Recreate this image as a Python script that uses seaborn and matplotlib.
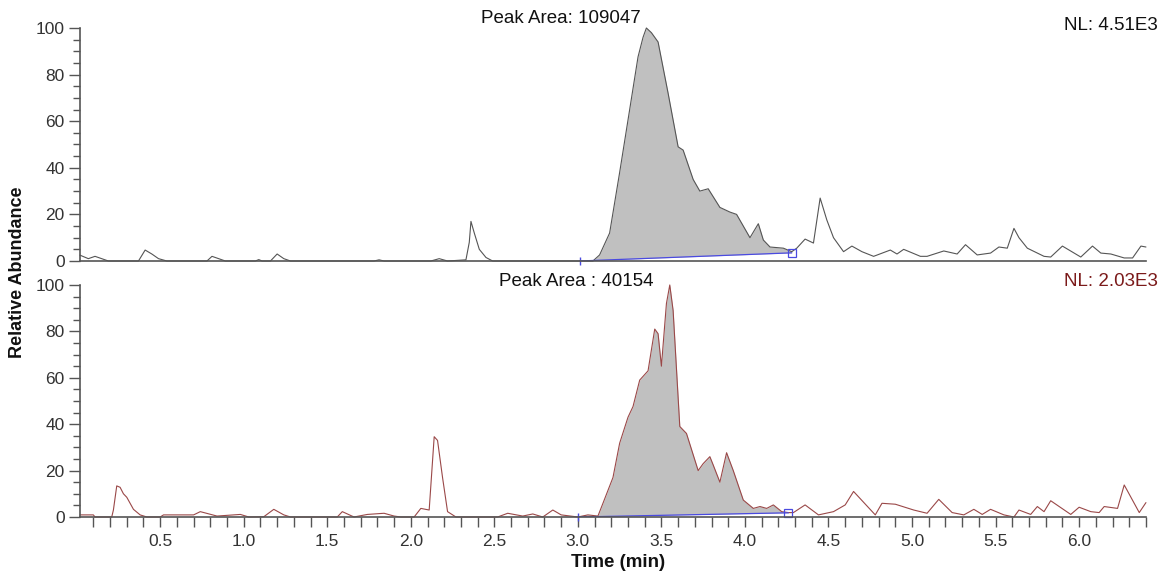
# Chromatogram recreation: two stacked SRM traces with integrated peak

import numpy as np
import matplotlib
matplotlib.use('Agg')
import matplotlib.pyplot as plt
from matplotlib.ticker import MultipleLocator, FormatStrFormatter
import seaborn as sns

sns.set_style('ticks')
plt.rcParams['font.family'] = ['Liberation Sans', 'DejaVu Sans']

# top trace (NL 4.51E3)
top_time = [0.02, 0.07, 0.11, 0.15, 0.19, 0.37, 0.41, 0.45, 0.49, 0.54, 0.78, 0.81, 0.85, 0.89,
            1.07, 1.09, 1.11, 1.16, 1.20, 1.24, 1.28, 1.78, 1.81, 1.84, 2.12, 2.17, 2.22,
            2.33, 2.35, 2.36, 2.38, 2.41, 2.45, 2.49, 3.01, 3.09, 3.13, 3.19, 3.25, 3.31,
            3.36, 3.39, 3.41, 3.44, 3.48, 3.54, 3.60, 3.63, 3.69, 3.73, 3.78, 3.85, 3.91,
            3.95, 4.03, 4.08, 4.11, 4.15, 4.23, 4.28, 4.31, 4.36, 4.41, 4.45, 4.49, 4.53,
            4.59, 4.64, 4.70, 4.77, 4.87, 4.91, 4.95, 5.05, 5.09, 5.19, 5.27, 5.32, 5.39,
            5.47, 5.52, 5.57, 5.61, 5.64, 5.69, 5.79, 5.83, 5.90, 6.01, 6.08, 6.13, 6.19,
            6.27, 6.32, 6.37, 6.40]
top_int = [2.5, 1.0, 2.0, 1.0, 0.0, 0.0, 4.7, 3.0, 1.0, 0.0, 0.0, 2.0, 1.0, 0.0,
           0.0, 0.6, 0.0, 0.0, 3.0, 1.0, 0.0, 0.0, 0.5, 0.0, 0.0, 1.0, 0.0,
           0.5, 8.0, 17.0, 12.0, 5.0, 1.5, 0.0, 0.0, 0.0, 2.6, 12.0, 38.0, 65.0,
           87.6, 96.0, 100.0, 98.0, 94.0, 72.0, 49.0, 47.6, 35.0, 30.0, 31.0, 23.0, 21.0,
           20.0, 10.0, 16.0, 9.0, 6.0, 5.5, 4.0, 5.5, 9.4, 7.7, 27.0, 17.6, 10.0,
           4.0, 6.4, 4.0, 2.0, 4.7, 3.0, 5.0, 2.0, 2.0, 4.3, 3.0, 7.0, 2.6,
           3.4, 6.0, 5.5, 14.0, 10.0, 5.5, 2.0, 1.7, 6.4, 1.7, 6.4, 3.4, 3.0,
           1.3, 1.3, 6.4, 6.0]

# bottom trace (NL 2.03E3)
bot_time = [0.02, 0.10, 0.11, 0.21, 0.22, 0.24, 0.26, 0.28, 0.30, 0.34, 0.38, 0.42, 0.50,
            0.52, 0.70, 0.74, 0.84, 0.98, 1.03, 1.12, 1.18, 1.24, 1.28, 1.56, 1.59, 1.66,
            1.74, 1.84, 1.90, 1.94, 2.02, 2.06, 2.11, 2.14, 2.16, 2.19, 2.22, 2.27, 2.52,
            2.58, 2.67, 2.73, 2.79, 2.85, 2.90, 3.00, 3.06, 3.12, 3.15, 3.21, 3.25, 3.30,
            3.33, 3.37, 3.42, 3.46, 3.48, 3.50, 3.53, 3.55, 3.57, 3.61, 3.65, 3.72, 3.75,
            3.79, 3.81, 3.85, 3.89, 3.93, 3.99, 4.05, 4.09, 4.13, 4.17, 4.22, 4.26, 4.29,
            4.36, 4.44, 4.53, 4.60, 4.65, 4.78, 4.82, 4.90, 5.01, 5.09, 5.16, 5.24, 5.31,
            5.37, 5.42, 5.47, 5.55, 5.61, 5.64, 5.71, 5.75, 5.79, 5.83, 5.95, 6.00, 6.07,
            6.12, 6.15, 6.23, 6.27, 6.36, 6.40]
bot_int = [0.9, 0.9, 0.0, 0.0, 3.0, 13.4, 12.8, 10.0, 8.5, 3.3, 0.9, 0.0, 0.0,
           0.9, 0.9, 2.3, 0.4, 1.1, 0.0, 0.1, 3.3, 0.9, 0.0, 0.0, 2.3, 0.0,
           1.1, 1.6, 0.4, 0.0, 0.0, 3.7, 3.0, 34.6, 33.0, 17.0, 2.3, 0.0, 0.0,
           1.6, 0.4, 1.3, 0.0, 3.0, 0.9, 0.0, 0.9, 0.4, 5.9, 17.0, 31.8, 43.0,
           47.6, 59.0, 63.0, 81.0, 79.0, 65.0, 92.0, 100.0, 89.0, 39.0, 36.0, 20.0, 23.0,
           26.0, 22.4, 15.0, 27.7, 20.0, 7.3, 3.7, 4.5, 3.7, 5.2, 2.3, 1.9, 1.9,
           5.2, 0.9, 2.3, 5.2, 11.0, 0.9, 5.9, 5.5, 3.0, 1.6, 7.6, 1.9, 0.9,
           3.3, 1.1, 3.3, 0.9, 0.0, 3.0, 1.1, 4.5, 2.3, 7.0, 1.1, 4.2, 2.3,
           1.9, 4.5, 3.7, 13.8, 1.9, 6.2]

# integration limits (time) and baseline heights at those limits
top_base_t = [3.01, 4.28]
top_base_y = [0.0, 3.5]
bot_base_t = [3.00, 4.26]
bot_base_y = [0.0, 1.8]

top_label = 'Peak Area: 109047'
bot_label = 'Peak Area : 40154'
top_nl = 'NL: 4.51E3'
bot_nl = 'NL: 2.03E3'

fig = plt.figure(figsize=(11.66, 5.75), dpi=100)
ax_top = fig.add_axes([0.0686, 0.5461, 0.9142, 0.4052])
ax_bot = fig.add_axes([0.0686, 0.1009, 0.9142, 0.4035])

spine_col = '#555555'

def draw_trace(ax, t, y, base_t, base_y, line_col):
    t = np.array(t)
    y = np.array(y)
    inside = (t >= base_t[0]) & (t <= base_t[1])
    base = np.interp(t, base_t, base_y)
    ax.fill_between(t, base, y, where=inside, color='#c0c0c0', linewidth=0, interpolate=True)
    sns.lineplot(x=t, y=y, ax=ax, color=line_col, linewidth=0.8, clip_on=False)
    ax.plot(base_t, base_y, color='#4a4ae0', linewidth=0.9)
    ax.plot(base_t[1:], base_y[1:], marker='s', markersize=6, markerfacecolor='none',
            markeredgecolor='#4a4ae0', markeredgewidth=0.9, linestyle='none', clip_on=False)
    ax.plot(base_t[:1], base_y[:1], marker='|', markersize=6, color='#4a4ae0', clip_on=False)
    ax.set_xlim(0.02, 6.40)
    ax.set_ylim(0, 100)
    ax.yaxis.set_major_locator(MultipleLocator(20))
    ax.yaxis.set_minor_locator(MultipleLocator(5))
    ax.tick_params(axis='y', which='major', length=8, width=1, color=spine_col,
                   labelsize=12.5, labelcolor='#333333', pad=3)
    ax.tick_params(axis='y', which='minor', length=5, width=1, color=spine_col)
    for side in ['top', 'right']:
        ax.spines[side].set_visible(False)
    for side in ['left', 'bottom']:
        ax.spines[side].set_color(spine_col)
        ax.spines[side].set_linewidth(1.2)
    ax.set_xlabel('')
    ax.set_ylabel('')

draw_trace(ax_top, top_time, top_int, top_base_t, top_base_y, '#555555')
draw_trace(ax_bot, bot_time, bot_int, bot_base_t, bot_base_y, '#9a4848')

ax_top.set_xticks([])
ax_top.tick_params(axis='x', which='both', length=0, labelbottom=False)

ax_bot.xaxis.set_major_locator(MultipleLocator(0.5))
ax_bot.xaxis.set_minor_locator(MultipleLocator(0.1))
ax_bot.xaxis.set_major_formatter(FormatStrFormatter('%.1f'))
ax_bot.tick_params(axis='x', which='both', length=7, width=1, color=spine_col,
                   labelsize=12.5, labelcolor='#333333', pad=5)

fig.text(0.481, 0.968, top_label, ha='center', va='center', fontsize=13.5, color='#111111')
fig.text(0.494, 0.510, bot_label, ha='center', va='center', fontsize=13.5, color='#111111')
fig.text(0.993, 0.955, top_nl, ha='right', va='center', fontsize=13.5, color='#111111')
fig.text(0.993, 0.510, bot_nl, ha='right', va='center', fontsize=13.5, color='#7b1a1a')

fig.text(0.0154, 0.527, 'Relative Abundance', rotation=90, ha='center', va='center',
         fontsize=13, fontweight='bold', color='#111111')
fig.text(0.530, 0.0209, 'Time (min)', ha='center', va='center',
         fontsize=13.5, fontweight='bold', color='#111111')

fig.savefig('out.png', dpi=100)
